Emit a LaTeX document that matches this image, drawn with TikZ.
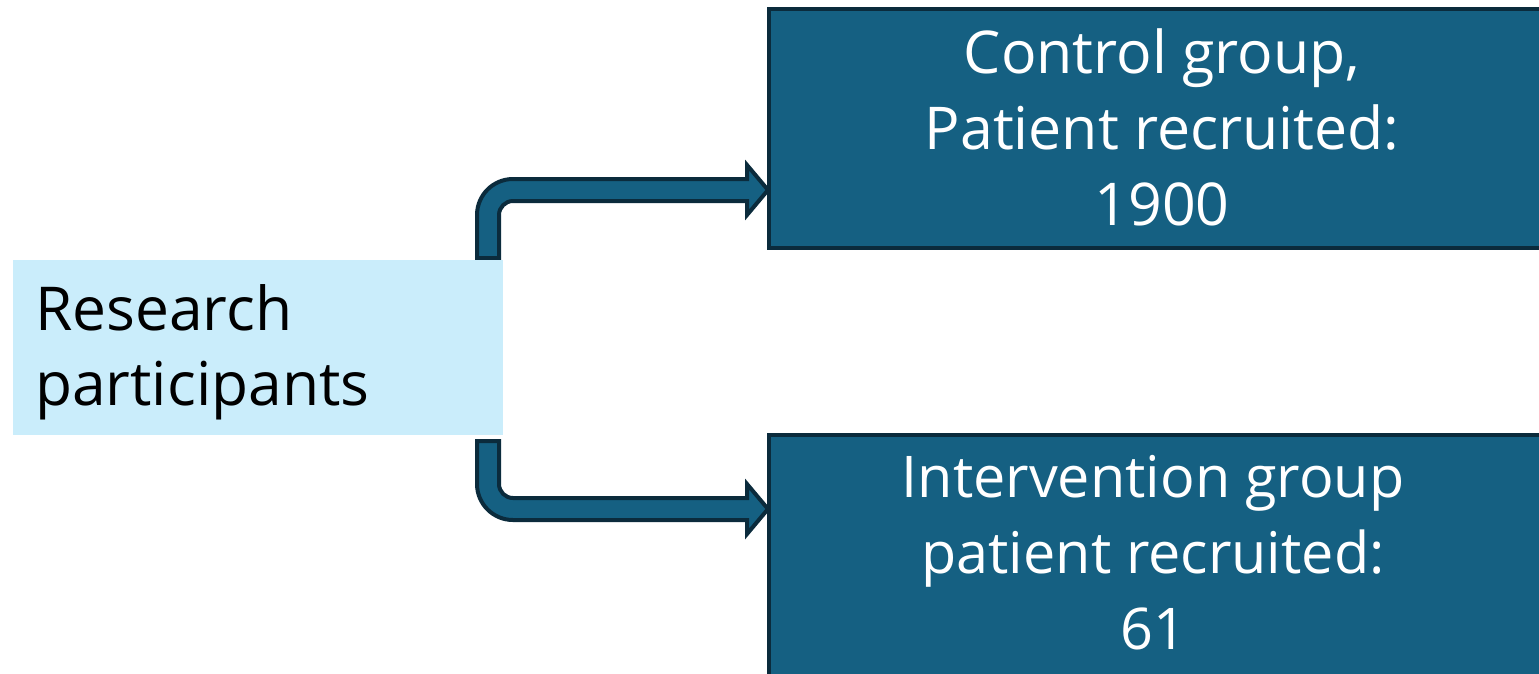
\documentclass[tikz,border=0pt]{standalone}
\usepackage{fontspec}
\setmainfont{Open Sans}
\definecolor{boxfill}{HTML}{156082}
\definecolor{boxline}{HTML}{0B2B3C}
\definecolor{lightfill}{HTML}{CAEDFB}
\begin{document}
\begin{tikzpicture}[x=1pt,y=-1pt,
  grp/.style={draw=boxline, line width=4pt, fill=boxfill, rectangle, inner sep=0pt},
  grptext/.style={text=white, align=center, font=\fontsize{59}{76}\selectfont, inner sep=0pt},
  restext/.style={text=black, align=left, font=\fontsize{60.5}{75}\selectfont, inner sep=0pt},
  blockarrow/.style={draw=boxline, line width=4pt, fill=boxfill, line join=miter}]
\useasboundingbox (0,0) rectangle (1539,673);
\clip (0,0) rectangle (1539,673);
% arrows
\draw[blockarrow] (477,258) -- (477,215) .. controls (477,195.1) and (493.1,179) .. (513,179)
  -- (747,179) -- (747,165) -- (768,190) -- (747,215) -- (747,201) -- (513,201)
  .. controls (505.3,201) and (499,207.3) .. (499,215) -- (499,258) -- cycle;
\draw[blockarrow] (477,441) -- (477,484) .. controls (477,503.9) and (493.1,520) .. (513,520)
  -- (747,520) -- (747,534) -- (768,509) -- (747,484) -- (747,498) -- (513,498)
  .. controls (505.3,498) and (499,491.7) .. (499,484) -- (499,441) -- cycle;
% boxes
\node[grp, minimum width=811pt, minimum height=239pt] (ctl) at (1174.5,128.5) {};
\node[grp, minimum width=811pt, minimum height=265pt] (int) at (1174.5,567.5) {};
\node[fill=lightfill, inner sep=0pt, minimum width=490pt, minimum height=175pt] (res) at (258,347.5) {};
% texts
\node[grptext] (ctltxt) at (1162,127) {Control group,\\Patient recruited:\\1900};
\node[grptext, font=\fontsize{57.5}{76}\selectfont] (inttxt) at (1153,553) {Intervention group\\patient recruited:\\61};
\node[restext, anchor=west] (restxt) at (35,352) {Research\\participants};
\end{tikzpicture}
\end{document}
